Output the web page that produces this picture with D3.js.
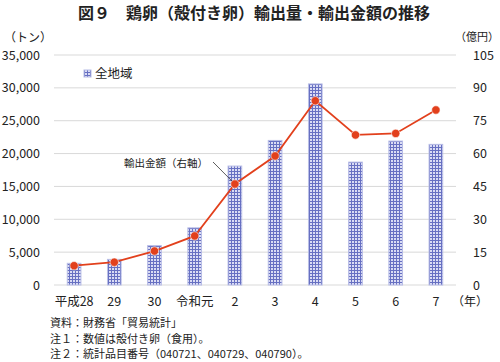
<!DOCTYPE html>
<html>
<head>
<meta charset="utf-8">
<script src="https://cdn.jsdelivr.net/npm/d3@7"></script>
<style>
  body { margin: 0; background: #fff; }
  svg text { font-family: "Noto Sans CJK JP", "Noto Sans", sans-serif; fill: #222; }
</style>
</head>
<body>
<div id="chart"></div>
<script>
const years = ["平成28", "29", "30", "令和元", "2", "3", "4", "5", "6", "7"];
const volume = [3300, 3900, 6000, 8700, 18100, 22000, 30600, 18700, 21900, 21400];
const amount = [8.8, 10.4, 15.5, 22.4, 46.1, 58.9, 84.1, 68.5, 69.2, 79.9];
const leftTicks = [0, 5000, 10000, 15000, 20000, 25000, 30000, 35000];
const rightTicks = [0, 15, 30, 45, 60, 75, 90, 105];
const notes = [
  "資料：財務省「貿易統計」",
  "注１：数値は殻付き卵（食用）。",
  "注２：統計品目番号（040721、040729、040790）。"
];

const width = 500, height = 362;
const margin = { top: 55, right: 44, bottom: 77, left: 54 };

const svg = d3.select("#chart").append("svg")
  .attr("width", width)
  .attr("height", height);

const defs = svg.append("defs");
const pat = defs.append("pattern")
  .attr("id", "grid")
  .attr("patternUnits", "userSpaceOnUse")
  .attr("width", 3)
  .attr("height", 3);
pat.append("rect").attr("width", 3).attr("height", 3).attr("fill", "#dadcf4");
pat.append("path").attr("d", "M0,0.5H3M0.5,0V3")
  .attr("stroke", "#6770c2").attr("stroke-width", 1);

const x = d3.scaleBand()
  .domain(years)
  .range([margin.left, width - margin.right])
  .paddingInner(0.66)
  .paddingOuter(0.33);

const yL = d3.scaleLinear().domain([0, 35000]).range([height - margin.bottom, margin.top]);
const yR = d3.scaleLinear().domain([0, 105]).range([height - margin.bottom, margin.top]);

// gridlines
svg.append("g")
  .selectAll("line")
  .data(leftTicks)
  .enter()
  .append("line")
  .attr("x1", margin.left)
  .attr("x2", width - margin.right)
  .attr("y1", d => yL(d))
  .attr("y2", d => yL(d))
  .attr("stroke", "#d9d9d9")
  .attr("stroke-width", 1);

// left axis
const axL = svg.append("g")
  .attr("transform", `translate(${margin.left - 11},0)`)
  .call(d3.axisLeft(yL).tickValues(leftTicks).tickSize(0).tickFormat(d3.format(",")));
axL.select(".domain").remove();
axL.selectAll("text").attr("font-size", 12.5).attr("font-family", "Liberation Sans, Arial, sans-serif");

// right axis
const axR = svg.append("g")
  .attr("transform", `translate(${width - margin.right + 14},0)`)
  .call(d3.axisRight(yR).tickValues(rightTicks).tickSize(0));
axR.select(".domain").remove();
axR.selectAll("text").attr("font-size", 12.5).attr("font-family", "Liberation Sans, Arial, sans-serif");

// bars
svg.append("g")
  .selectAll("rect")
  .data(volume)
  .enter()
  .append("rect")
  .attr("x", (d, i) => x(years[i]))
  .attr("y", d => yL(d))
  .attr("width", x.bandwidth())
  .attr("height", d => yL(0) - yL(d))
  .attr("fill", "url(#grid)")
  .attr("stroke", "#b8bde6")
  .attr("stroke-width", 1);

// line
const line = d3.line()
  .x((d, i) => x(years[i]) + x.bandwidth() / 2)
  .y(d => yR(d));

svg.append("path")
  .datum(amount)
  .attr("d", line)
  .attr("fill", "none")
  .attr("stroke", "#e2401c")
  .attr("stroke-width", 1.8);

svg.append("g")
  .selectAll("circle")
  .data(amount)
  .enter()
  .append("circle")
  .attr("cx", (d, i) => x(years[i]) + x.bandwidth() / 2)
  .attr("cy", d => yR(d))
  .attr("r", 4.2)
  .attr("fill", "#e2401c")
  .attr("stroke", "#fff")
  .attr("stroke-width", 0.6);

// x labels
svg.append("g")
  .selectAll("text")
  .data(years)
  .enter()
  .append("text")
  .attr("x", d => x(d) + x.bandwidth() / 2)
  .attr("y", height - margin.bottom + 21)
  .attr("text-anchor", "middle")
  .attr("font-size", 12.5)
  .text(d => d);

svg.append("text")
  .attr("x", 488)
  .attr("y", height - margin.bottom + 21)
  .attr("text-anchor", "end")
  .attr("font-size", 12)
  .text("（年）");

// title
svg.append("text")
  .attr("x", width / 2 + 4)
  .attr("y", 19)
  .attr("text-anchor", "middle")
  .attr("font-size", 16)
  .attr("font-weight", "bold")
  .text("図９　鶏卵（殻付き卵）輸出量・輸出金額の推移");

// units
svg.append("text")
  .attr("x", 4)
  .attr("y", 42)
  .attr("font-size", 12)
  .text("（トン）");

svg.append("text")
  .attr("x", width - 1)
  .attr("y", 41)
  .attr("text-anchor", "end")
  .attr("font-size", 11)
  .text("（億円）");

// legend
svg.append("rect")
  .attr("x", 84)
  .attr("y", 70)
  .attr("width", 7)
  .attr("height", 7)
  .attr("fill", "url(#grid)")
  .attr("stroke", "#b8bde6");
svg.append("text")
  .attr("x", 95)
  .attr("y", 78)
  .attr("font-size", 12.5)
  .text("全地域");

// annotation
const ax2 = x(years[4]) + x.bandwidth() / 2;
svg.append("line")
  .attr("x1", 213)
  .attr("y1", 162)
  .attr("x2", ax2 - 3)
  .attr("y2", yR(amount[4]) - 3)
  .attr("stroke", "#333")
  .attr("stroke-width", 0.8);
svg.append("text")
  .attr("x", 208)
  .attr("y", 167)
  .attr("text-anchor", "end")
  .attr("font-size", 10.5)
  .text("輸出金額（右軸）");

// notes
svg.append("g")
  .selectAll("text")
  .data(notes)
  .enter()
  .append("text")
  .attr("x", 50)
  .attr("y", (d, i) => 327 + i * 15.5)
  .attr("font-size", 11)
  .text(d => d);
</script>
</body>
</html>
